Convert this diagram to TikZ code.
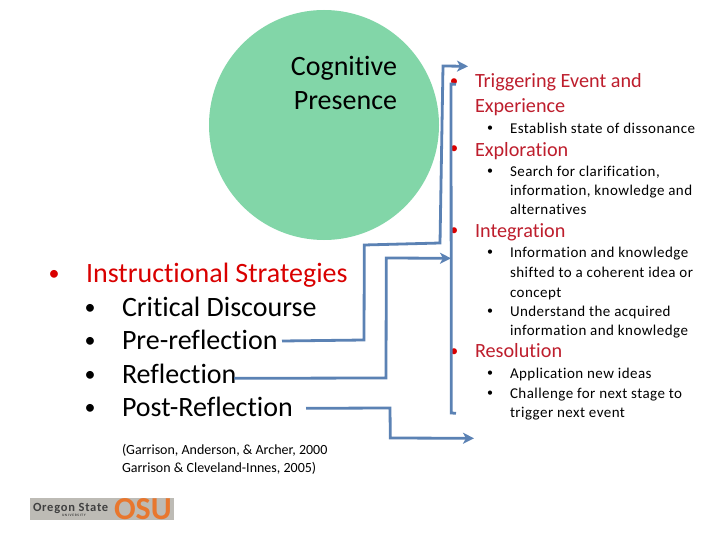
\documentclass[tikz,border=0pt]{standalone}
\usepackage{fontspec}
\setmainfont[Ligatures={NoCommon}]{Carlito}
\usetikzlibrary{arrows.meta}
\definecolor{circ}{HTML}{82D6A8}
\definecolor{connc}{HTML}{5B82B4}
\definecolor{hd}{HTML}{BE1E2D}
\definecolor{osu}{HTML}{E8772E}
\definecolor{logog}{HTML}{BDBBB5}
\newcommand{\fsz}[1]{\fontsize{#1bp}{#1bp}\selectfont}
\tikzset{
  x=1bp,y=-1bp,
  txt/.style={anchor=base west,inner sep=0pt,outer sep=0pt},
  big/.style={txt,font=\fsz{28}},
  bigh/.style={big,text=red!85!black},
  mid/.style={txt,font=\fsz{20.2},text=hd},
  small/.style={txt,font=\fsz{15}\addfontfeatures{LetterSpace=3}},
  cite/.style={txt,font=\fsz{14}},
  bula/.style={anchor=base,inner sep=0pt,outer sep=0pt,font=\fsz{22}},
  bulb/.style={anchor=base,inner sep=0pt,outer sep=0pt,font=\fsz{17},text=red!85!black},
  bulc/.style={anchor=base,inner sep=0pt,outer sep=0pt,font=\fsz{12}},
  connl/.style={draw=connc,line width=2.8bp,line join=miter},
  arr/.style={connl,-{Stealth[length=11bp,width=11bp,inset=3bp]}},
}
\begin{document}
\begin{tikzpicture}
\useasboundingbox (0,0) rectangle (720,540);
\fill[white] (0,0) rectangle (720,540);
\node[circle,fill=circ,minimum size=230bp,inner sep=0pt] (cog) at (324,125) {};
\begin{scope}[yshift=-1bp]
\node[big,anchor=base east] (c1) at (397,75) {Cognitive};
\node[big,anchor=base east] (c2) at (397,109) {Presence};
% left list
\node[bula,text=red!85!black] (lb) at (54,280) {•};
\node[bigh] (l0) at (86,282) {Instructional Strategies};
\foreach \y/\n/\t in {315/l1/Critical Discourse,348/l2/Pre-reflection,382/l3/Reflection,415/l4/Post-Reflection}{
  \node[bula] at (90,\y-1.3) {•};
  \node[big] (\n) at (122,\y) {\t};
}
\node[cite] (k1) at (122,453) {(Garrison, Anderson, \& Archer, 2000};
\node[cite] (k2) at (122,471) {Garrison \& Cleveland-Innes, 2005)};
% right list
\foreach \y/\t in {87/Triggering Event and,112/Experience,156/Exploration,237/Integration,356/Resolution}{
  \node[mid] at (475,\y) {\t};
}
\foreach \y in {86,153,235,355}{ \node[bulb] at (454,\y) {•}; }
\foreach \y/\t in {133/Establish state of dissonance,176/{Search for clarification,},195/{information, knowledge and},214/alternatives,257/Information and knowledge,277/shifted to a coherent idea or,296/concept,315/Understand the acquired,334/information and knowledge,377/Application new ideas,397/Challenge for next stage to,416/trigger next event}{
  \node[small] at (510,\y) {\t};
}
\foreach \y in {133,176,257,315,377,397}{ \node[bulc] at (490,\y-2) {•}; }
\end{scope}
% logo
\node[fill=logog,minimum width=144bp,minimum height=22bp,inner sep=0pt,anchor=north west] (logo) at (30,498) {};
\node[txt,font=\fsz{12.5}\bfseries\addfontfeatures{LetterSpace=6},text=black!75] (lg1) at (33,511) {Oregon State};
\node[txt,font=\fsz{3.5}\bfseries\addfontfeatures{LetterSpace=20},text=black!75] (lg2) at (62,516) {UNIVERSITY};
\node[txt,font=\fsz{32}\bfseries,text=osu] (lg3) at (114,519) {OSU};
% connectors
\coordinate (a0) at (282,341);
\coordinate (a1) at (364,340);
\coordinate (a2) at (364.3,245);
\coordinate (a3) at (440,243);
\coordinate (a4) at (443,66);
\coordinate (a5) at (468,66.3);
\coordinate (b0) at (234,378.3);
\coordinate (b1) at (386,378);
\coordinate (b2) at (386.3,258);
\coordinate (b3) at (451,258.3);
\coordinate (c0) at (306,408.3);
\coordinate (c3) at (390,408);
\coordinate (c4) at (390.3,438);
\coordinate (c5) at (474,438.3);
\coordinate (d0) at (456,84.3);
\coordinate (d1) at (451,84);
\coordinate (d2) at (451.3,413);
\coordinate (d3) at (456,413.3);
\draw[arr] (a0) -- (a1) -- (a2) -- (a3) -- (a4) -- (a5);
\draw[arr] (b0) -- (b1) -- (b2) -- (b3);
\draw[arr] (c0) -- (c3) -- (c4) -- (c5);
\draw[connl] (d0) -- (d1) -- (d2) -- (d3);
\end{tikzpicture}
\end{document}
